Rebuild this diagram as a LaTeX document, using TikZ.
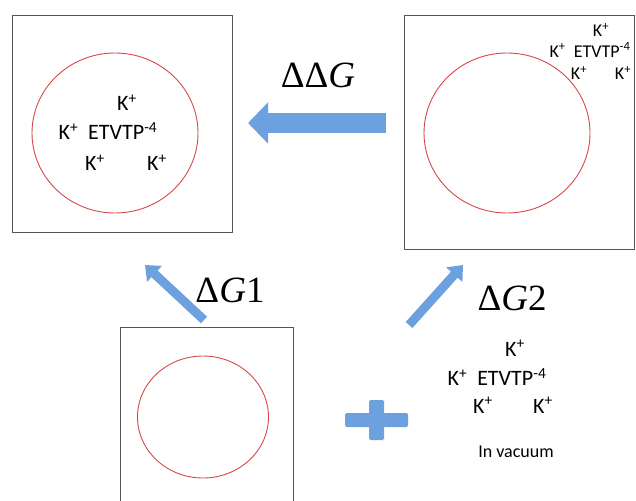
\documentclass[tikz,border=0pt]{standalone}
\usepackage{fontspec}
\setmainfont{Carlito}
\newfontfamily\dgfont{Liberation Serif}
\usepackage{tikz}
\usetikzlibrary{shapes.geometric,arrows.meta,positioning,calc}
\definecolor{boxgray}{RGB}{85,85,85}
\definecolor{cellred}{RGB}{214,72,72}
\definecolor{arrowblue}{RGB}{108,160,222}

\begin{document}
\begin{tikzpicture}[
    x=1pt, y=-1pt,
    box/.style={draw=boxgray, line width=0.9pt, rectangle, inner sep=0pt, outer sep=0pt},
    cell/.style={draw=cellred, line width=0.9pt, ellipse, inner sep=0pt, outer sep=0pt},
    ion/.style={font=\fontsize{22}{24}\selectfont, inner sep=0pt},
    ionsmall/.style={font=\fontsize{18}{20}\selectfont, inner sep=0pt},
    dg/.style={font=\fontsize{37}{40}\dgfont, inner sep=0pt},
    bigarrow/.style={line width=20pt, color=arrowblue, -{Triangle[length=20pt, width=40pt]}},
    thinarrow/.style={line width=9pt, color=arrowblue, -{Triangle[length=13pt, width=21pt]}}
]
\useasboundingbox (0,0) rectangle (636,500);

% boxes and cells
\node[box, minimum width=220pt, minimum height=217pt] (box1) at (122,123.5) {};
\node[box, minimum width=230pt, minimum height=234pt] (box2) at (519,132) {};
\node[box, minimum width=173pt, minimum height=193pt] (box3) at (206.5,423.5) {};
\node[cell, minimum width=166pt, minimum height=160pt] (cell1) at (115,133) {};
\node[cell, minimum width=166pt, minimum height=160pt] (cell2) at (507,133) {};
\node[cell, minimum width=131pt, minimum height=122pt] (cell3) at (203,417) {};

% ions inside cell 1
\node[ion] (k1a) at (127,103) {K\textsuperscript{+}};
\node[ion] (et1) at (108,131) {K\textsuperscript{+}\ \ ETVTP\textsuperscript{-4}};
\node[ion] (k1b) at (95,163) {K\textsuperscript{+}};
\node[ion] (k1c) at (157,163) {K\textsuperscript{+}};

% ions outside cell 2
\node[ionsmall] (k2a) at (601,30) {K\textsuperscript{+}};
\node[ionsmall] (et2) at (590,50) {K\textsuperscript{+}\ \ ETVTP\textsuperscript{-4}};
\node[ionsmall] (k2b) at (579,73) {K\textsuperscript{+}};
\node[ionsmall] (k2c) at (623,73) {K\textsuperscript{+}};

% ions in vacuum
\node[ion] (k3a) at (515,348) {K\textsuperscript{+}};
\node[ion] (et3) at (497,377) {K\textsuperscript{+}\ \ ETVTP\textsuperscript{-4}};
\node[ion] (k3b) at (483,405) {K\textsuperscript{+}};
\node[ion] (k3c) at (543,405) {K\textsuperscript{+}};
\node[ionsmall] (vac) at (516,452) {In vacuum};

% free energy arrows
\coordinate (ddg-tail) at (386,123);
\coordinate (ddg-head) at (248,123);
\draw[bigarrow] (ddg-tail) -- (ddg-head);
\node[dg] (ddg) at (318,75) {ΔΔ{\itshape G}};

\coordinate (g1-tail) at (204,320);
\coordinate (g1-head) at (145,265);
\draw[thinarrow] (g1-tail) -- (g1-head);
\node[dg] (dg1) at (230,290) {Δ{\itshape G}1};

\coordinate (g2-tail) at (409,325);
\coordinate (g2-head) at (463,265);
\draw[thinarrow] (g2-tail) -- (g2-head);
\node[dg] (dg2) at (512,298) {Δ{\itshape G}2};

% plus sign
\fill[arrowblue, rounded corners=1.5pt] (345,413) rectangle (408,427);
\fill[arrowblue, rounded corners=1.5pt] (369,400) rectangle (384,440);
\end{tikzpicture}
\end{document}
